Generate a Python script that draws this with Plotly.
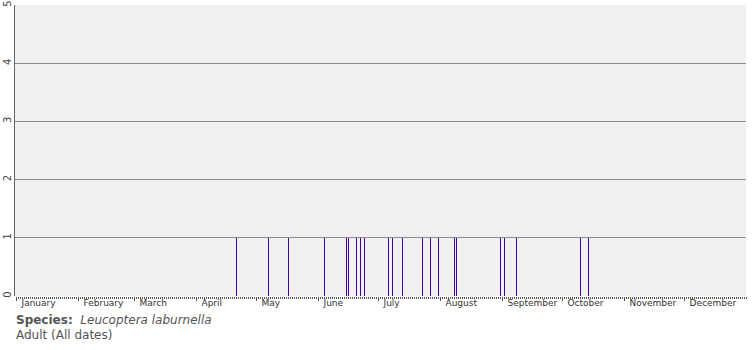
import plotly.graph_objects as go

# Day-of-year (0 = 1 January) of each record, and the count recorded that day
record_days = [110, 126, 136, 154, 165, 166, 170, 172, 174, 186, 188, 193,
               203, 207, 211, 219, 220, 242, 244, 250, 282, 286]
record_counts = [1] * len(record_days)

month_names = ["January", "February", "March", "April", "May", "June",
               "July", "August", "September", "October", "November", "December"]
month_starts = [0, 31, 59, 90, 120, 151, 181, 212, 243, 273, 304, 334]
y_ticks = [0, 1, 2, 3, 4, 5]

species = "Leucoptera laburnella"
stage = "Adult (All dates)"

fig = go.Figure()
fig.add_trace(go.Bar(
    x=record_days, y=record_counts,
    width=0.4, offset=0.05,
    marker=dict(color="#3f00a6", line=dict(width=0)),
    hoverinfo="x+y",
))

fig.update_layout(
    width=755, height=350,
    margin=dict(l=15, r=9, t=5, b=54, autoexpand=False),
    paper_bgcolor="white",
    plot_bgcolor="#f0f0f0",
    showlegend=False,
    bargap=0,
    xaxis=dict(
        range=[-0.5, 365],
        automargin=False,
        tickmode="array",
        tickvals=month_starts,
        ticktext=month_names,
        ticks="outside", ticklen=4, tickwidth=1, tickcolor="#555555",
        ticklabelposition="outside right",
        ticklabelshift=5,
        ticklabelstandoff=-2,
        tickfont=dict(family="DejaVu Sans", size=9, color="#333333"),
        showgrid=False, zeroline=False, showline=False,
        minor=dict(ticks="outside", ticklen=2, tickwidth=1, tickcolor="#555555",
                   tickmode="linear", tick0=0, dtick=1, showgrid=False),
        fixedrange=True,
    ),
    yaxis=dict(
        range=[0, 5],
        automargin=False,
        tickmode="array",
        tickvals=y_ticks,
        ticktext=[str(v) for v in y_ticks],
        tickangle=-90,
        ticks="", ticklabelstandoff=-1,
        tickfont=dict(family="DejaVu Sans", size=10, color="#444444"),
        showgrid=True, gridcolor="#8c8c8c", gridwidth=1,
        zeroline=False,
        showline=True, linecolor="#666666", linewidth=1,
        fixedrange=True,
    ),
    annotations=[
        dict(xref="paper", yref="paper", x=0, y=-0.083, xanchor="left", yanchor="middle",
             xshift=-1,
             text="<b>Species:</b>&nbsp;&nbsp;<i>" + species + "</i>",
             showarrow=False,
             font=dict(family="DejaVu Sans", size=12, color="#555555")),
        dict(xref="paper", yref="paper", x=0, y=-0.135, xanchor="left", yanchor="middle",
             xshift=-1,
             text=stage, showarrow=False,
             font=dict(family="DejaVu Sans", size=12, color="#555555")),
    ],
)

fig.write_html("out.html")
